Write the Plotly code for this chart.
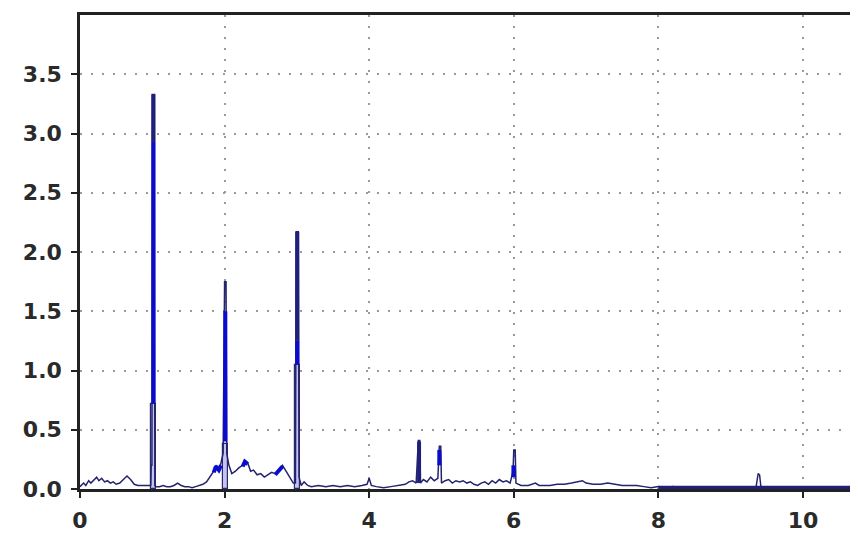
import plotly.graph_objects as go

# Spectrum (thin dark line)
freq = [0.00, 0.05, 0.08, 0.12, 0.15, 0.20, 0.23, 0.26, 0.30, 0.34, 0.38, 0.42, 0.46, 0.50, 0.55,
        0.60, 0.65, 0.70, 0.75, 0.80, 0.85, 0.90, 0.95, 0.98, 0.985, 0.995, 1.00, 1.03, 1.035,
        1.05, 1.10, 1.15, 1.20, 1.25, 1.30, 1.35, 1.40, 1.45, 1.50, 1.55, 1.60, 1.65, 1.70, 1.75,
        1.80, 1.85, 1.88, 1.92, 1.95, 1.98, 2.00, 2.02, 2.03, 2.06, 2.10, 2.15, 2.20, 2.25, 2.28,
        2.32, 2.36, 2.40, 2.45, 2.50, 2.55, 2.60, 2.65, 2.70, 2.75, 2.80, 2.85, 2.90, 2.95, 2.98,
        2.99, 3.02, 3.03, 3.06, 3.10, 3.15, 3.20, 3.30, 3.40, 3.50, 3.60, 3.70, 3.80, 3.90, 3.97,
        4.00, 4.03, 4.10, 4.20, 4.30, 4.40, 4.50, 4.55, 4.60, 4.65, 4.68, 4.70, 4.71, 4.75, 4.80,
        4.85, 4.90, 4.95, 4.97, 4.99, 5.00, 5.05, 5.10, 5.15, 5.20, 5.25, 5.30, 5.35, 5.40, 5.45,
        5.50, 5.55, 5.60, 5.65, 5.70, 5.75, 5.80, 5.85, 5.90, 5.95, 5.99, 6.00, 6.02, 6.03, 6.10,
        6.20, 6.30, 6.35, 6.50, 6.60, 6.70, 6.80, 6.90, 6.95, 7.00, 7.10, 7.20, 7.30, 7.40, 7.50,
        7.60, 7.70, 7.80, 7.90, 8.00, 8.10, 8.20, 8.30, 8.60, 9.00, 9.35, 9.38, 9.40, 9.42, 9.50,
        10.00, 10.72]
amp = [0.02, 0.05, 0.03, 0.07, 0.05, 0.08, 0.10, 0.07, 0.09, 0.06, 0.07, 0.05, 0.06, 0.04, 0.05,
       0.08, 0.11, 0.08, 0.04, 0.03, 0.03, 0.03, 0.03, 0.03, 0.20, 0.20, 3.33, 3.33, 0.03,
       0.02, 0.02, 0.03, 0.02, 0.02, 0.03, 0.05, 0.03, 0.02, 0.02, 0.01, 0.02, 0.03, 0.04, 0.06,
       0.10, 0.15, 0.20, 0.17, 0.22, 0.30, 1.75, 1.75, 0.30, 0.20, 0.13, 0.15, 0.18, 0.20, 0.24,
       0.22, 0.15, 0.16, 0.12, 0.13, 0.10, 0.12, 0.14, 0.13, 0.17, 0.20, 0.15, 0.10, 0.05, 0.05,
       2.17, 2.17, 0.10, 0.03, 0.06, 0.03, 0.02, 0.03, 0.02, 0.03, 0.02, 0.03, 0.02, 0.03, 0.04,
       0.09, 0.03, 0.02, 0.01, 0.02, 0.03, 0.04, 0.06, 0.07, 0.05, 0.41, 0.41, 0.05, 0.08, 0.06,
       0.10, 0.07, 0.09, 0.36, 0.36, 0.05, 0.07, 0.08, 0.05, 0.07, 0.06, 0.07, 0.05, 0.06, 0.04,
       0.03, 0.05, 0.06, 0.04, 0.07, 0.05, 0.08, 0.06, 0.07, 0.05, 0.15, 0.33, 0.33, 0.05, 0.03,
       0.03, 0.05, 0.03, 0.03, 0.04, 0.04, 0.05, 0.06, 0.07, 0.05, 0.04, 0.04, 0.05, 0.04, 0.03,
       0.03, 0.03, 0.02, 0.01, 0.02, 0.01, 0.02, 0.01, 0.01, 0.01, 0.01, 0.13, 0.12, 0.01, 0.01,
       0.01, 0.01]

# Bright blue overlay segments (None separates segments)
blue_x = [1.015, 1.015, None, 2.01, 2.01, None, 3.005, 3.005, None,
          1.85, 1.88, 1.92, 1.95, None, 2.25, 2.28, 2.32, None, 2.70, 2.75, 2.80, None,
          4.97, 4.97, None, 5.995, 5.995]
blue_y = [0.72, 2.93, None, 0.40, 1.50, None, 1.05, 1.25, None,
          0.14, 0.19, 0.16, 0.20, None, 0.19, 0.23, 0.21, None, 0.12, 0.16, 0.19, None,
          0.20, 0.33, None, 0.10, 0.20]

# Dark thick overlay segments
dark_x = [1.015, 1.015, None, 3.005, 3.005, None, 4.69, 4.69, None, 8.00, 10.72]
dark_y = [2.93, 3.33, None, 1.25, 2.17, None, 0.05, 0.40, None, 0.01, 0.01]

# Light lavender outlined bars at peak bases
bar_x = [1.015, 2.01, 3.005]
bar_y = [0.72, 0.38, 1.05]

x_ticks = [0, 2, 4, 6, 8, 10]
y_ticks = [0.0, 0.5, 1.0, 1.5, 2.0, 2.5, 3.0, 3.5]

fig = go.Figure()
fig.add_trace(go.Bar(x=bar_x, y=bar_y, width=0.07,
                     marker=dict(color="#c4c4ee", line=dict(color="#2a2a70", width=1.2)),
                     showlegend=False))
fig.add_trace(go.Scatter(x=freq, y=amp, mode="lines",
                         line=dict(color="#23236e", width=1.5), showlegend=False))
fig.add_trace(go.Scatter(x=blue_x, y=blue_y, mode="lines",
                         line=dict(color="#0b0bd0", width=4), showlegend=False))
fig.add_trace(go.Scatter(x=dark_x, y=dark_y, mode="lines",
                         line=dict(color="#20207a", width=4), showlegend=False))

axis_common = dict(showline=True, linecolor="#222222", linewidth=2.5, mirror=True,
                   ticks="outside", ticklen=6, tickwidth=2, tickcolor="#222222",
                   showgrid=True, gridcolor="#9a9a9a", gridwidth=2, griddash="2px,9px",
                   zeroline=False, automargin=False,
                   tickfont=dict(family="DejaVu Sans", size=22, color="#2a2a2a",
                                 weight="bold"))

fig.update_layout(
    width=850, height=535,
    margin=dict(l=72, r=3, t=7, b=54),
    paper_bgcolor="white", plot_bgcolor="white",
    bargap=0,
    xaxis=dict(range=[0, 10.72], tickvals=x_ticks, ticklabelstandoff=4, **axis_common),
    yaxis=dict(range=[0, 4.0], tickvals=y_ticks, tickformat=".1f", ticklabelstandoff=5,
               **axis_common),
)

fig.write_html("out.html")
